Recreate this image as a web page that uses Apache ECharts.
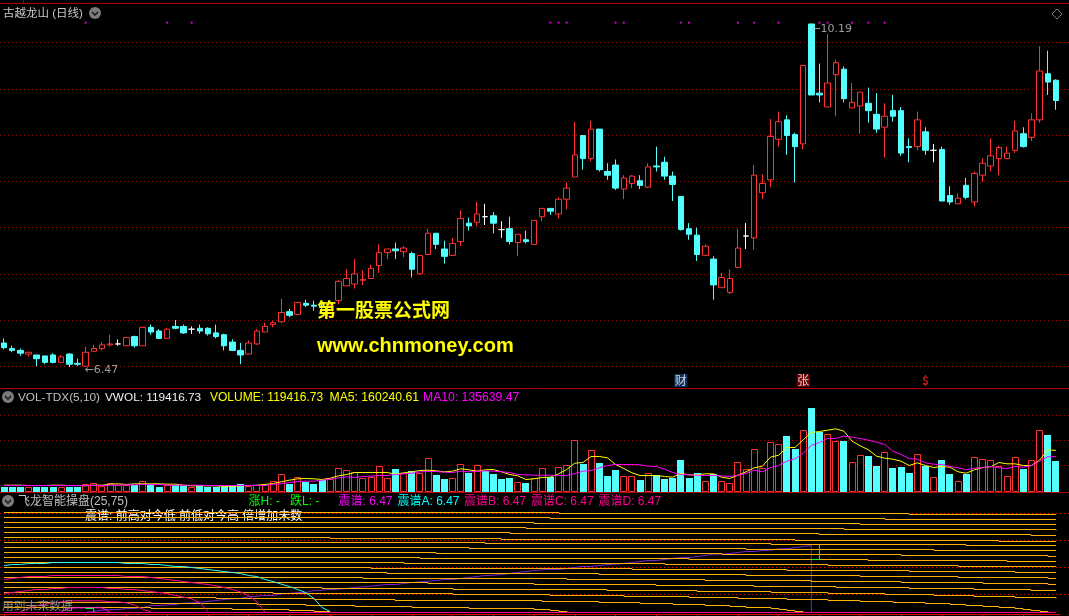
<!DOCTYPE html>
<html><head><meta charset="utf-8">
<style>html,body{margin:0;padding:0;background:#000}#c{width:1069px;height:616px}</style>
<script src="https://cdn.jsdelivr.net/npm/echarts@6/dist/echarts.min.js"></script>
</head><body><div id="c"></div>
<script>
// [open, close, low, high]
const candles = [
[6.73,6.68,6.66,6.78],[6.67,6.65,6.63,6.70],[6.65,6.62,6.59,6.67],[6.61,6.63,6.58,6.63],[6.60,6.56,6.48,6.60],
[6.59,6.52,6.50,6.59],[6.60,6.52,6.51,6.62],[6.52,6.58,6.52,6.60],[6.61,6.50,6.47,6.62],[6.51,6.50,6.48,6.56],
[6.48,6.63,6.48,6.69],[6.64,6.67,6.64,6.71],[6.67,6.71,6.65,6.74],[6.71,6.72,6.69,6.82],[6.72,6.72,6.70,6.77],
[6.70,6.79,6.70,6.79],[6.80,6.70,6.68,6.81],[6.70,6.90,6.70,6.91],[6.90,6.85,6.82,6.93],[6.86,6.78,6.78,6.88],
[6.78,6.88,6.78,6.89],[6.91,6.89,6.88,6.98],[6.91,6.84,6.83,6.93],[6.88,6.88,6.83,6.91],[6.89,6.86,6.83,6.93],
[6.89,6.83,6.81,6.90],[6.84,6.80,6.78,6.93],[6.82,6.70,6.65,6.83],[6.74,6.65,6.65,6.77],[6.65,6.60,6.50,6.73],
[6.61,6.73,6.61,6.76],[6.72,6.86,6.71,6.88],[6.85,6.91,6.85,6.95],[6.93,6.95,6.90,6.97],[6.96,7.06,6.95,7.21],
[7.07,7.03,7.01,7.10],[7.04,7.17,7.04,7.17],[7.16,7.14,7.12,7.20],[7.14,7.13,7.08,7.19],[7.13,7.12,7.08,7.16],
[7.02,7.14,7.00,7.15],[7.19,7.40,7.15,7.41],[7.35,7.43,7.35,7.53],[7.37,7.48,7.32,7.64],[7.41,7.42,7.36,7.52],
[7.43,7.54,7.43,7.58],[7.57,7.71,7.49,7.80],[7.71,7.75,7.64,7.75],[7.75,7.73,7.64,7.82],[7.72,7.76,7.66,7.78],
[7.70,7.53,7.44,7.72],[7.48,7.68,7.47,7.68],[7.69,7.92,7.69,7.97],[7.92,7.80,7.75,7.92],[7.75,7.67,7.59,7.84],
[7.68,7.81,7.68,7.87],[7.83,8.08,7.78,8.17],[8.03,8.00,7.95,8.09],[8.04,8.13,8.00,8.26],[8.10,8.10,8.01,8.24],
[8.11,8.03,7.92,8.15],[7.96,7.96,7.87,8.05],[7.97,7.83,7.80,8.10],[7.82,7.91,7.67,7.91],[7.85,7.83,7.81,7.95],
[7.80,8.06,7.80,8.06],[8.10,8.19,8.05,8.19],[8.19,8.16,8.12,8.19],[8.13,8.29,8.08,8.31],[8.29,8.41,8.18,8.47],
[8.53,8.77,8.53,9.13],[8.98,8.73,8.61,8.98],[8.73,9.05,8.70,9.14],[9.05,8.61,8.59,9.05],[8.59,8.55,8.50,8.68],
[8.66,8.41,8.39,8.72],[8.40,8.52,8.29,8.55],[8.46,8.54,8.41,8.55],[8.49,8.44,8.40,8.55],[8.42,8.64,8.41,8.68],
[8.65,8.64,8.59,8.86],[8.69,8.54,8.50,8.75],[8.54,8.45,8.27,8.59],[8.32,7.96,7.95,8.32],[7.97,7.91,7.85,8.03],
[7.90,7.69,7.62,7.98],[7.68,7.78,7.68,7.80],[7.64,7.36,7.20,7.67],[7.33,7.44,7.33,7.49],[7.28,7.43,7.26,7.53],
[7.55,7.76,7.55,7.97],[7.89,7.89,7.75,8.03],[7.87,8.55,7.74,8.66],[8.36,8.46,8.29,8.56],[8.50,8.97,8.42,9.16],
[8.94,9.13,8.86,9.24],[9.15,8.98,8.77,9.20],[8.99,8.86,8.47,9.01],[8.89,9.74,8.83,9.74],[10.19,9.42,9.42,10.19],
[9.44,9.42,9.34,9.76],[9.29,9.55,9.29,10.08],[9.64,9.77,9.19,9.80],[9.70,9.38,9.34,9.73],[9.28,9.34,9.28,9.55],
[9.30,9.45,9.00,9.45],[9.33,9.25,9.12,9.50],[9.21,9.05,9.01,9.44],[9.07,9.19,8.74,9.33],[9.25,9.19,9.13,9.42],
[9.25,8.79,8.76,9.29],[8.86,8.85,8.69,8.95],[8.86,9.15,8.82,9.24],[9.02,8.82,8.77,9.07],[8.82,8.82,8.69,8.89],
[8.83,8.27,8.27,8.86],[8.33,8.26,8.23,8.43],[8.24,8.30,8.24,8.35],[8.44,8.31,8.29,8.52],[8.26,8.57,8.21,8.59],
[8.55,8.68,8.48,8.73],[8.65,8.76,8.59,8.95],[8.73,8.85,8.55,8.87],[8.73,8.79,8.73,8.86],[8.82,9.03,8.79,9.14],
[9.00,8.86,8.85,9.07],[8.96,9.15,8.92,9.22],[9.15,9.68,9.12,9.95],[9.65,9.56,9.42,9.90],[9.58,9.36,9.26,9.59]
];
const volumes = [
13300,13300,16000,14700,14700,16000,13300,16000,13300,13300,
26700,32000,18700,32000,21300,21300,22700,40000,28000,14700,
21300,21300,20000,14700,18700,16000,14700,16000,18700,25300,
18700,21300,26700,38700,68000,28000,56000,34700,25300,44000,
48000,92000,84000,74700,52000,53300,97300,52000,88000,72000,
77300,69300,132000,61300,45300,49300,108000,72000,104000,77300,
65300,45300,49300,36000,32000,
52000,92000,54700,96000,104000,204000,105300,164000,109300,57300,81300,60000,60000,41300,72000,
61300,45300,50700,121300,49300,69300,40000,68000,40000,32000,116000,88000,168000,92000,196000,
188000,217300,168000,244000,329300,236000,228000,200000,197300,116000,144000,137300,97300,156000,89300,
93300,69300,148000,97300,56000,121300,65300,40000,65300,136000,128000,124000,100000,60000,136000,
85300,124000,244000,221300,119416.73
];
const ma5 = [
21300,21300,21300,20000,20000,20000,21300,21300,20000,20000,
18700,21300,21300,25300,26700,24000,26700,26700,26700,26700,
25300,25300,21300,18700,18700,18700,18700,16000,17300,18700,
20000,21300,24000,28000,34700,41300,46700,48000,46700,44000,
49300,58700,64000,72000,72000,72000,72000,72000,65300,70700,
74700,80000,81300,78700,74700,77300,86700,82700,77300,82700,
84000,74700,64000,58700,44000,
46700,52000,53300,66700,84000,109300,112000,136000,136000,130700,104000,88000,70700,60000,60000,
60000,56000,53300,68000,62700,62700,66700,66700,53300,48000,61300,74700,90700,97300,133300,
141300,172000,172000,202700,232000,236000,241300,246700,237300,197300,178700,162700,137300,129300,125300,
117300,100000,110700,100000,92000,96000,93300,74700,69300,82700,92000,94700,112000,106700,106700,
100000,100000,121300,162700,160240.61
];
const ma10 = [
20000,20000,20000,20000,20000,20000,20000,20000,20000,20000,
20000,20000,20000,21300,21300,22700,22700,24000,24000,24000,
21300,21300,21300,21300,21300,20000,20000,20000,20000,20000,
20000,20000,20000,25300,26700,32000,36000,37300,37300,41300,
45300,50700,54700,52000,56000,57300,60000,60000,64000,66700,
69300,74700,76000,76000,73300,72000,77300,74700,76000,78700,
77300,74700,72000,64000,62700,
61300,61300,61300,60000,60000,68000,77300,80000,90700,100000,104000,104000,104000,102700,97300,
96000,85300,72000,64000,62700,61300,60000,60000,58700,56000,61300,68000,81300,74700,92000,
100000,117300,126700,149300,180000,192000,208000,208000,217300,213300,208000,201300,193300,184000,157300,
144000,128000,125300,110700,105300,104000,96000,90700,82700,89300,90700,96000,90700,88000,96000,
93300,100000,117300,134700,135639.47
];
const dojiDown = [59,61];
const signalIdx = [10,20,23,67,68,69,75,76,83,84,90,92,95,100,101,104,106,108];
const signalLevel = 10.204;
const lowMark = [10,6.47], highMark = [99,10.19];
const markers = [[83,'财','#0f3f70','#ffffff'],[98,'张','#8c0000','#ffffff'],[113,'$','#000000','#ff1a1a']];
const markerLevel = 6.323;

// Stepped levels of the lower pane: [first bar, level]
const L1=[[0,9.47],[68,9.44],[111,9.41],[129,9.41]];
const L2=[[0,9.32],[67,9.29],[108,9.26],[129,9.26]];
const L3=[[0,9.17],[65,9.14],[105,9.11],[129,9.11]];
const L4=[[0,9.02],[64,8.99],[103,8.96],[129,8.93]];
const L5=[[0,8.87],[62,8.84],[100,8.81],[126,8.78],[129,8.78]];
const L6=[[0,8.72],[40,8.69],[61,8.66],[97,8.63],[122,8.60],[129,8.60]];
const L7=[[0,8.57],[59,8.54],[94,8.51],[118,8.48],[129,8.48]];
const L8=[[0,8.42],[57,8.39],[91,8.36],[114,8.33],[129,8.33]];
const L9=[[0,8.27],[53,8.24],[88,8.21],[110,8.18],[128,8.15],[129,8.15]];
const L10=[[0,8.12],[51,8.09],[84,8.06],[106,8.03],[123,8.00],[129,8.00]];
const L11=[[0,7.97],[49,7.94],[81,7.91],[101,7.88],[117,7.85],[129,7.85]];
const L12=[[0,7.82],[45,7.79],[77,7.76],[96,7.73],[111,7.70],[124,7.67],[129,7.67]];
const L13=[[0,7.67],[47,7.64],[73,7.61],[91,7.58],[105,7.55],[117,7.52],[128,7.49],[129,7.49]];
const L14=[[0,7.52],[44,7.49],[69,7.46],[86,7.43],[99,7.40],[110,7.37],[120,7.34],[128,7.31],[129,7.31]];
const L15=[[0,7.37],[52,7.34],[65,7.31],[80,7.28],[92,7.25],[102,7.22],[111,7.19],[119,7.16],[126,7.13],[129,7.13]];
const L16=[[0,7.22],[39,7.19],[55,7.16],[74,7.13],[85,7.10],[94,7.07],[101,7.04],[108,7.01],[114,6.98],[119,6.95],[124,6.92],[129,6.89]];
const L17=[[0,7.07],[33,7.04],[55,7.01],[67,6.98],[76,6.95],[84,6.92],[90,6.89],[96,6.86],[101,6.83],[105,6.80],[109,6.77],[113,6.74],[116,6.71],[118,6.68],[120,6.65],[122,6.62],[124,6.59],[125,6.56],[126,6.53],[127,6.50],[128,6.47]];
const L18=[[0,6.92],[26,6.89],[38,6.86],[48,6.83],[66,6.80],[73,6.77],[78,6.74],[82,6.71],[86,6.68],[89,6.65],[91,6.62],[94,6.59],[95,6.56],[96,6.53],[97,6.50],[98,6.47]];
const L19=[[0,6.77],[18,6.74],[31,6.71],[37,6.68],[43,6.65],[50,6.62],[57,6.59],[65,6.56],[67,6.53],[68,6.50],[69,6.47]];
const L20=[[0,6.62],[18,6.59],[28,6.56],[35,6.53],[38,6.50],[40,6.47]];
const stepLines=[L1,L2,L3,L4,L5,L6,L7,L8,L9,L10,L11,L12,L13,L14,L15,L16,L17,L18,L19,L20];

const spectrumA=[7.88,7.91,7.91,7.94,7.94,7.94,7.97,7.97,7.97,7.97,7.97,7.97,7.97,7.97,7.97,7.94,7.94,7.94,7.91,7.91,7.88,7.85,7.85,7.82,7.79,7.76,7.73,7.70,7.67,7.64,7.58,7.55,7.46,7.40,7.32,7.25,7.16,7.07,6.89,6.62,6.50];
const spectrumB=[7.46,7.49,7.52,7.55,7.55,7.55,7.58,7.58,7.58,7.58,7.58,7.58,7.58,7.58,7.58,7.55,7.55,7.55,7.52,7.49,7.46,7.43,7.40,7.37,7.34,7.31,7.27,7.22,7.16,7.09,6.97,6.79,6.48];
const spectrumC=[7.04,7.07,7.10,7.13,7.16,7.16,7.19,7.19,7.22,7.22,7.22,7.22,7.22,7.19,7.19,7.16,7.16,7.13,7.10,7.07,7.04,6.98,6.93,6.88,6.77,6.50];
const spectrumD=[null,null,6.49,6.59,6.67,6.72,6.76,6.79,6.82,6.82,6.82,6.82,6.82,6.79,6.79,6.76,6.70,6.57,6.49];
const spectrum0=[null,null,null,null,null,null,null,6.49,6.60,6.61,6.61,6.61,6.61,6.49];
const rising=[null,null,null,null,null,null,null,null,null,null,
6.47,6.50,6.54,6.56,6.56,6.59,6.59,6.62,6.68,6.68,6.70,6.71,6.75,6.76,6.78,6.80,6.83,6.86,6.88,6.89,6.94,6.96,6.98,6.98,7.03,7.04,7.07,7.07,7.13,7.14,
7.16,7.17,7.19,7.22,7.24,7.26,7.29,7.31,7.31,7.34,7.37,7.39,7.41,7.43,7.46,7.46,7.49,7.52,7.55,7.58,
7.59,7.61,7.64,7.67,7.70,7.73,7.75,7.76,7.76,7.79,7.82,7.85,7.85,7.88,7.91,7.92,7.94,7.97,8.00,8.03,
8.03,8.06,8.09,8.12,8.12,8.15,8.18,8.22,8.22,8.24,8.27,8.30,8.30,8.33,8.34,8.38,8.38,8.42,8.45,8.48];
const risingDrop=[[99,8.48],[99,6.47]];
const green1=[[10,6.59],[11,6.59],[11,6.49]];
const green2=[[99,8.06],[100,8.06],[100,8.51]];
const baseLevel=6.47;

const titleMain='古越龙山 (日线)';
const volTexts=[['VOL-TDX(5,10)',18,'#c0c0c0',11.8],['VWOL: 119416.73',105,'#f0f0f0',11.8],['VOLUME: 119416.73',210,'#ffff00',12],['MA5: 160240.61',329.5,'#ffff00',12.2],['MA10: 135639.47',423,'#ff00ff',12.2]];
const pane3Texts=[['飞龙智能操盘(25,75)',18,'#c0c0c0',12],['涨H: -',248.5,'#00ff00',12],['跌L: -',290,'#00ff00',12],['震谱: 6.47',338.5,'#ff00ff',12],['震谱A: 6.47',397.5,'#00ffff',12],['震谱B: 6.47',464,'#ff0090',12],['震谱C: 6.47',531,'#ff0090',12],['震谱D: 6.47',598.5,'#ff0090',12]];

const RED='#ff3232', CY='#54ffff', ORANGE='#ffb000', W=1069, H=616, FONT='"Liberation Sans","Noto Sans CJK SC",sans-serif';
const cats=candles.map((_,i)=>i);
const isUp=i=>dojiDown.includes(i)?false:candles[i][1]>=candles[i][0];
// Each run of a stepped level: [first bar, next change bar, level, next level]
const stepRuns=stepLines.flatMap(pts=>pts.slice(0,-1).map((p,k)=>[p[0],pts[k+1][0],p[1],pts[k+1][1]]));

const hiddenCat=g=>({type:'category',gridIndex:g,data:cats,show:false,boundaryGap:true});
const hiddenVal=(g,min,max)=>({type:'value',gridIndex:g,min,max,show:false,scale:true,splitLine:{show:false}});
const rule=(g,max,color)=>({type:'value',gridIndex:g,min:0,max,interval:1,axisLine:{show:false},axisTick:{show:false},axisLabel:{show:false},
  splitLine:{show:true,lineStyle:{color,type:[1,3],width:1}}});

const grids=[
 {left:0,width:1060,top:4,height:384},
 {left:0,width:1060,top:390.5,height:100},
 {left:0,width:1060,top:505.5,height:109},
 {left:0,right:0,top:42.5,height:324},
 {left:0,right:0,top:415.5,height:50},
 {left:0,right:0,top:513.5,height:81}
];
const xAxis=[hiddenCat(0),hiddenCat(1),
 {type:'category',gridIndex:2,data:cats,boundaryGap:true,axisLine:{show:true,lineStyle:{color:'#e00000',width:1}},
  axisTick:{show:true,length:2,interval:4,alignWithLabel:true,lineStyle:{color:'#e00000'}},axisLabel:{show:false},splitLine:{show:false}},
 {type:'value',gridIndex:3,min:0,max:1,show:false,splitLine:{show:false}},
 {type:'value',gridIndex:4,min:0,max:1,show:false,splitLine:{show:false}},
 {type:'value',gridIndex:5,min:0,max:1,show:false,splitLine:{show:false}}];
const yAxis=[hiddenVal(0,6.2422,10.4066),hiddenVal(1,0,400000),hiddenVal(2,6.41,9.68),
 rule(3,7,'#a00000'),rule(4,2,'#a00000'),rule(5,3,'#e00000')];

const line=(name,x,data,color,z,extra)=>Object.assign({type:'line',name,xAxisIndex:x,yAxisIndex:x,data,symbol:'none',silent:true,z,
  lineStyle:{color,width:1},connectNulls:false},extra||{});

const volBar=(params,api)=>{
  const i=api.value(0), p=api.coord([i,api.value(1)]), zero=api.coord([i,0]);
  const X=Math.round(p[0]-3.5), top=Math.round(p[1]), bot=Math.round(zero[1]);
  return isUp(i)
   ? {type:'rect',shape:{x:X+0.5,y:top+0.5,width:6,height:bot-top},style:{fill:'#000',stroke:RED,lineWidth:1}}
   : {type:'rect',shape:{x:X,y:top,width:7,height:bot-top+1},style:{fill:CY}};
};
const stepRun=(params,api)=>{
  const a=api.coord([api.value(0),api.value(2)]), b=api.coord([api.value(1),api.value(2)]), c=api.coord([api.value(1),api.value(3)]);
  const y1=Math.floor(a[1])+0.5, y2=Math.floor(c[1])+0.5, x1=Math.round(a[0]), x2=Math.round(b[0]);
  return {type:'polyline',shape:{points:[[x1,y1],[x2,y1],[x2,y2]]},style:{stroke:ORANGE,lineWidth:1,fill:null}};
};

const series=[
 {type:'candlestick',xAxisIndex:0,yAxisIndex:0,data:candles,barWidth:6,silent:true,z:3,
  itemStyle:{color:'#000',color0:CY,borderColor:RED,borderColor0:CY,borderColorDoji:'#ffffff',borderWidth:1}},
 {type:'scatter',xAxisIndex:0,yAxisIndex:0,data:signalIdx.map(i=>[i,signalLevel]),symbol:'rect',symbolSize:2,silent:true,z:4,itemStyle:{color:'#ff00ff'}},
 {type:'scatter',xAxisIndex:0,yAxisIndex:0,data:[lowMark],symbolSize:0,silent:true,z:5,
  label:{show:true,position:'right',distance:0,offset:[-1,3],color:'#c0c0c0',fontFamily:'"DejaVu Sans",sans-serif',fontSize:11,formatter:p=>'←'+p.value[1].toFixed(2)}},
 {type:'scatter',xAxisIndex:0,yAxisIndex:0,data:[highMark],symbolSize:0,silent:true,z:5,
  label:{show:true,position:'right',distance:0,offset:[0,5],color:'#c0c0c0',fontFamily:'"DejaVu Sans",sans-serif',fontSize:11,formatter:p=>'←'+p.value[1].toFixed(2)}},
 {type:'scatter',xAxisIndex:0,yAxisIndex:0,data:markers.map(m=>({value:[m[0],markerLevel],
    symbol:'rect',symbolSize:13,itemStyle:{color:m[2]},
    label:{show:true,position:'inside',formatter:m[1],color:m[3],fontSize:12,fontFamily:'"Noto Sans CJK SC",sans-serif',fontWeight:m[1]==='$'?'bold':'normal'}})),silent:true,z:5},
 {type:'custom',xAxisIndex:1,yAxisIndex:1,silent:true,z:3,clip:false,renderItem:volBar,encode:{x:0,y:1},data:volumes.map((v,i)=>[i,v])},
 line('MA5',1,ma5,'#ffff00',4),
 line('MA10',1,ma10,'#ff00ff',5),
 line('rising',2,rising,'#7a22d0',3),
 line('risingDrop',2,risingDrop,'#7a22d0',3),
 {type:'custom',xAxisIndex:2,yAxisIndex:2,silent:true,z:4,clip:false,renderItem:stepRun,encode:{x:[0,1],y:[2,3]},data:stepRuns},
 line('A',2,spectrumA,'#2ffcfc',6),
 line('B',2,spectrumB,'#ff0090',5),
 line('C',2,spectrumC,'#ff0090',5),
 line('D',2,spectrumD,'#ff0090',5),
 line('S',2,spectrum0,'#ff00ff',5),
 line('green1',2,green1,'#00ff40',6),
 line('green2',2,green2,'#00ff40',6),
 line('base',2,cats.map(()=>baseLevel),'#ff0090',6)
];

const txt=(t,x,y,fill,size,extra)=>Object.assign({type:'text',left:x,top:y-size/2+1,z:40,silent:true,
  style:{text:t,fill,fontSize:size,fontFamily:FONT}},extra||{});
const hr=(y)=>({type:'line',z:30,silent:true,shape:{x1:0,y1:y,x2:W,y2:y},style:{stroke:'#b00000',lineWidth:1}});
const icon=(x,y)=>[{type:'circle',z:41,silent:true,shape:{cx:x,cy:y,r:6},style:{fill:'#7a7a7a'}},
  {type:'polyline',z:42,silent:true,shape:{points:[[x-3,y-1],[x,y+2],[x+3,y-1]]},style:{stroke:'#111',lineWidth:1.4,fill:null}}];
const graphic=[
 hr(3.5),hr(388.5),hr(492.5),
 {type:'line',z:30,silent:true,shape:{x1:23.5,y1:0,x2:23.5,y2:3},style:{stroke:'#b00000',lineWidth:1}},
 ...icon(95,13),...icon(8,397),...icon(8,501),
 txt(titleMain,3,13,'#c8c8c8',11.5),
 {type:'polygon',z:40,silent:true,shape:{points:[[1057,9],[1062,14],[1057,19],[1052,14]]},style:{stroke:'#808080',fill:null,lineWidth:1}},
 ...volTexts.map(t=>txt(t[0],t[1],397,t[2],t[3])),
 ...pane3Texts.map(t=>txt(t[0],t[1],501,t[2],t[3])),
 txt('震谱: 前高对今低 前低对今高 倍增加未数',85,516,'#ffffff',12,{z:1}),
 txt('用到未来数据',2,606,'#8c8c8c',11.8,{z:40}),
 {type:'text',left:317,top:300,z:50,silent:true,style:{text:'第一股票公式网',fill:'#ffff00',fontSize:19,fontWeight:'bold',fontFamily:'"Noto Sans CJK SC",sans-serif',shadowColor:'#8a2000',shadowOffsetX:1,shadowOffsetY:1,shadowBlur:0}},
 {type:'text',left:317,top:336,z:50,silent:true,style:{text:'www.chnmoney.com',fill:'#ffff00',fontSize:20,fontWeight:'bold',fontFamily:'"Liberation Sans",sans-serif',shadowColor:'#8a2000',shadowOffsetX:1,shadowOffsetY:1,shadowBlur:0}}
];

const chart=echarts.init(document.getElementById('c'),null,{width:W,height:H,renderer:'canvas'});
chart.setOption({backgroundColor:'#000',animation:false,grid:grids,xAxis,yAxis,series,graphic,tooltip:{show:false}});
</script></body></html>
